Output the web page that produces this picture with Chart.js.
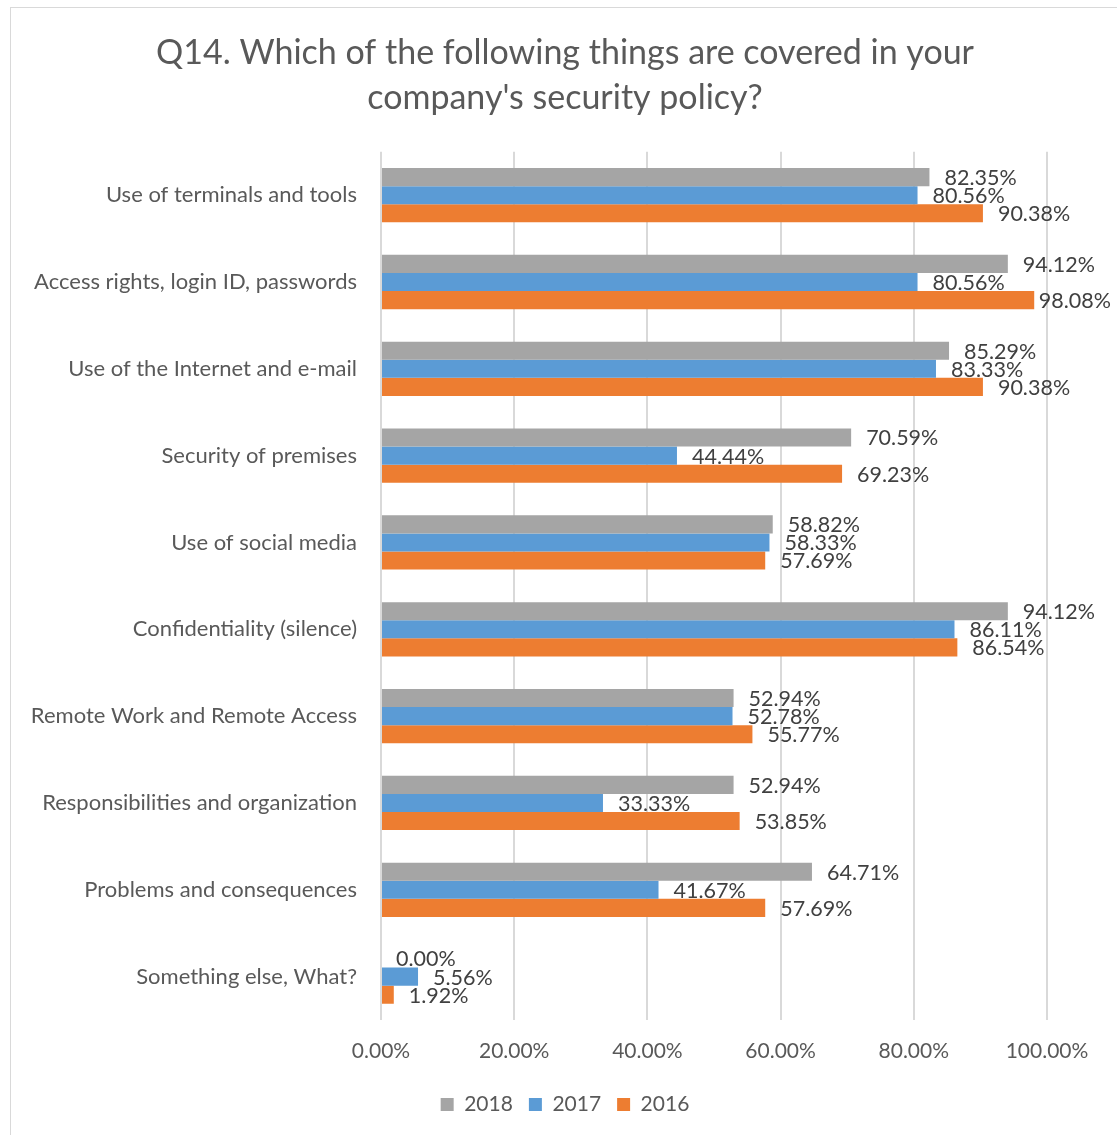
<!DOCTYPE html>
<html>
<head>
<meta charset="utf-8">
<script src="https://cdn.jsdelivr.net/npm/chart.js@4"></script>
<style>
  html, body { margin: 0; padding: 0; background: #fff; }
  #frame { position: absolute; left: 10px; top: 7px; width: 1120px; height: 1140px;
           border: 1px solid #d9d9d9; box-sizing: border-box; }
  #wrap { position: absolute; left: 10px; top: 7px; width: 1110px; height: 1128px; }
</style>
</head>
<body>
<div id="frame"></div>
<div id="wrap"><canvas id="c"></canvas></div>
<script>
/* ── data ─────────────────────────────── */
const categories = [
  'Use of terminals and tools',
  'Access rights, login ID, passwords',
  'Use of the Internet and e-mail',
  'Security of premises',
  'Use of social media',
  'Confidentiality (silence)',
  'Remote Work and Remote Access',
  'Responsibilities and organization',
  'Problems and consequences',
  'Something else, What?'
];
const y2018 = [82.35, 94.12, 85.29, 70.59, 58.82, 94.12, 52.94, 52.94, 64.71, 0.00];
const y2017 = [80.56, 80.56, 83.33, 44.44, 58.33, 86.11, 52.78, 33.33, 41.67, 5.56];
const y2016 = [90.38, 98.08, 90.38, 69.23, 57.69, 86.54, 55.77, 53.85, 57.69, 1.92];
const xTicks = [0, 20, 40, 60, 80, 100];

const FONT = 'Lato, Carlito, "Open Sans", sans-serif';
const TXT  = '#595959';

/* labels at bar end, like Excel's "outside end" (pulled back if they'd leave the chart) */
const barLabels = {
  id: 'barLabels',
  afterDatasetsDraw(chart) {
    const ctx = chart.ctx;
    const limit = chart.width - 9;
    ctx.save();
    ctx.font = `21.5px ${FONT}`;
    ctx.fillStyle = '#404040';
    ctx.textAlign = 'left';
    ctx.textBaseline = 'middle';
    chart.data.datasets.forEach((ds, i) => {
      chart.getDatasetMeta(i).data.forEach((bar, j) => {
        const txt = ds.data[j].toFixed(2) + '%';
        const w = ctx.measureText(txt).width;
        const x = Math.min(bar.x + 15, limit - w);
        ctx.fillText(txt, x, bar.y + 1);
      });
    });
    ctx.restore();
  }
};

new Chart('c', {
  type: 'bar',
  data: {
    labels: categories,
    datasets: [
      { label: '2018', data: y2018, backgroundColor: '#A5A5A5' },
      { label: '2017', data: y2017, backgroundColor: '#5B9BD5' },
      { label: '2016', data: y2016, backgroundColor: '#ED7D31' }
    ]
  },
  plugins: [barLabels],
  options: {
    indexAxis: 'y', responsive: true, maintainAspectRatio: false, animation: false,
    datasets: { bar: { categoryPercentage: 0.625, barPercentage: 1.0 } },
    layout: { padding: { left: 0, right: 0, top: 0, bottom: 10 } },
    plugins: {
      title: {
        display: true,
        text: ["Q14. Which of the following things are covered in your", "company's security policy?"],
        color: TXT,
        font: { family: FONT, size: 34, weight: 'normal', lineHeight: 1.32 },
        padding: { top: 24, bottom: 31 }
      },
      legend: {
        position: 'bottom',
        labels: {
          color: TXT, boxWidth: 13, boxHeight: 13, padding: 16,
          font: { family: FONT, size: 21 }
        }
      },
      tooltip: { enabled: false }
    },
    scales: {
      x: {
        min: 0, max: 100,
        afterBuildTicks: s => { s.ticks = xTicks.map(v => ({ value: v })); },
        afterFit: s => { s.height = 58; },
        grid: { color: '#d9d9d9', lineWidth: 2, drawTicks: false },
        border: { display: false },
        ticks: { color: TXT, padding: 19, font: { family: FONT, size: 21 },
                 callback: v => v.toFixed(2) + '%' }
      },
      y: {
        afterFit: s => { s.width = 371; },
        grid: { display: false },
        border: { display: false },
        ticks: { color: TXT, padding: 16, font: { family: FONT, size: 22 } }
      },
      // empty right-hand margin so the plot ends at 100% while title/legend stay centred
      yRight: {
        position: 'right', display: true,
        afterFit: s => { s.width = 73; },
        grid: { display: false },
        border: { display: false },
        ticks: { display: false }
      }
    }
  }
});
</script>
</body>
</html>
